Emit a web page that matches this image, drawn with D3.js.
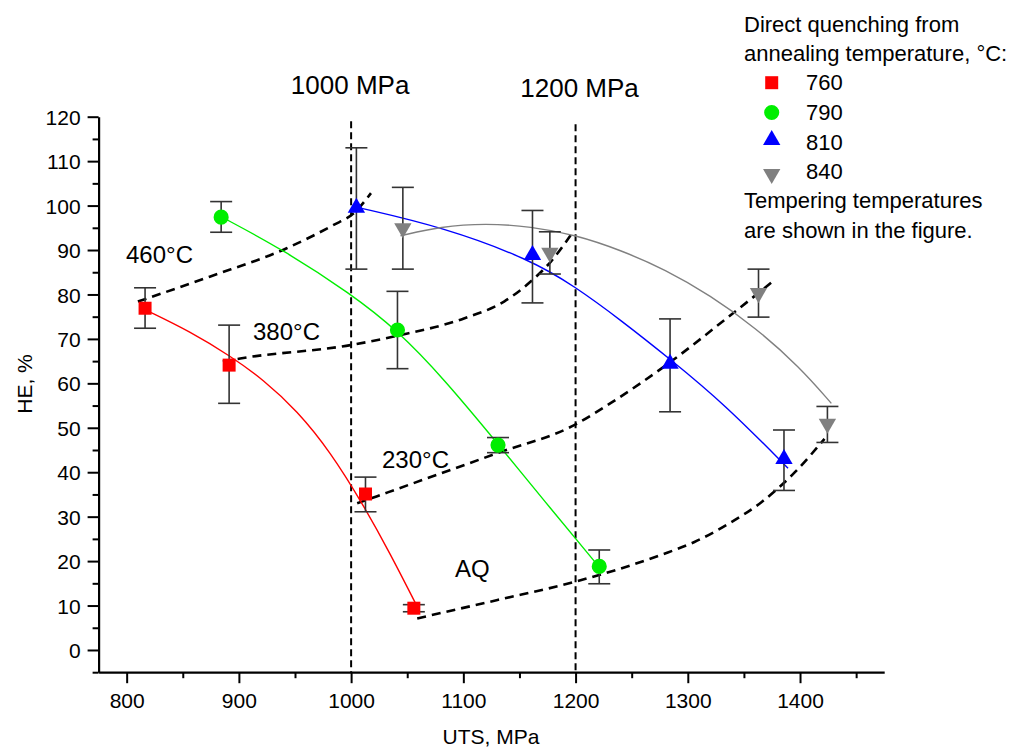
<!DOCTYPE html>
<html><head><meta charset="utf-8">
<script src="https://cdn.jsdelivr.net/npm/d3@7"></script>
<style>
body{margin:0;background:#fff}
text{font-family:"Liberation Sans",Arial,Helvetica,sans-serif;fill:#000}
</style>
</head><body>
<svg id="c" width="1010" height="747"></svg>
<script>
// ---------- data ----------
const xTicks = [800, 900, 1000, 1100, 1200, 1300, 1400];
const xMinor = [850, 950, 1050, 1150, 1250, 1350, 1450];
const yTicks = [0, 10, 20, 30, 40, 50, 60, 70, 80, 90, 100, 110, 120];
const yMinor = [-5, 5, 15, 25, 35, 45, 55, 65, 75, 85, 95, 105, 115];

const legendLabels = ["760", "790", "810", "840"];

// 760 °C (red squares)
const uts760 = [816.4, 891.3, 1012.8, 1055.9];
const he760  = [76.9, 64.1, 35.1, 9.4];
const lo760  = [72.4, 55.5, 31.1, 8.6];
const hi760  = [81.5, 73.1, 38.9, 10.2];
// 790 °C (green circles)
const uts790 = [884.2, 1041.3, 1130.9, 1221.1];
const he790  = [97.4, 72.0, 46.1, 18.8];
const lo790  = [94.0, 63.3, 44.4, 14.9];
const hi790  = [100.9, 80.7, 47.8, 22.5];
// 810 °C (blue triangles)
const uts810 = [1004.7, 1161.6, 1284.2, 1385.7];
const he810  = [99.5, 88.9, 64.4, 43.0];
const lo810  = [85.7, 78.1, 53.6, 35.9];
const hi810  = [113.0, 98.9, 74.5, 49.5];
// 840 °C (gray down triangles)
const uts840 = [1046.1, 1177.1, 1363.0, 1424.4];
const he840  = [94.9, 89.4, 80.3, 50.9];
const lo840  = [85.7, 84.6, 74.9, 46.7];
const hi840  = [104.1, 94.1, 85.7, 54.8];

// fitted curves
const fit760X = [817, 857, 892, 922, 952, 981.5, 1011, 1035, 1057.4];
const fit760Y = [76.5, 71.6, 66.2, 60.8, 53.8, 44.6, 32.6, 21.6, 10.5];
const fit790X = [884.2, 939.8, 999.4, 1041, 1082.7, 1130.4, 1172, 1219.6];
const fit790Y = [97.5, 90.0, 80.2, 72.0, 61.0, 46.5, 33.6, 19.1];
const fit810X = [1005.4, 1082.7, 1160, 1198.8, 1240, 1285, 1332.7, 1389.3];
const fit810Y = [99.6, 95.1, 87.8, 81.9, 74.3, 65.3, 55.3, 40.9];
const fit840X = [1044, 1080, 1120, 1160, 1200, 1240, 1280, 1320, 1360, 1400, 1427.9];
const fit840Y = [93.2, 95.3, 96.0, 95.3, 93.4, 90.0, 85.6, 79.8, 72.6, 63.6, 55.5];

// tempering trend lines (dashed)
const t460X = [810, 874, 942.6, 984, 1002, 1017.7];
const t460Y = [78.4, 84.0, 90.4, 95.6, 98.2, 102.8];
const t380X = [885.7, 901.2, 999.4, 1041, 1100.5, 1136.3, 1160, 1178, 1195.8];
const t380Y = [64.9, 65.6, 68.6, 70.7, 74.6, 78.4, 82.9, 87.4, 93.4];
const t230X = [1005.4, 1053, 1130.4, 1198.8, 1231.5, 1285, 1332.7, 1377.3];
const t230Y = [33.0, 37.3, 44.3, 50.6, 55.6, 64.9, 74.25, 83.25];
const tAQX  = [1058.9, 1130.4, 1200.3, 1276.2, 1305.9, 1335.6, 1365.3, 1395, 1421.8];
const tAQY  = [7.1, 11.25, 15.4, 21.4, 24.3, 28.3, 33.2, 39.9, 47.5];

const refX = [1000, 1200];
const refTop = [119, 118.3];
const refLabels = ["1000 MPa", "1200 MPa"];

const tempLabels = ["460°C", "380°C", "230°C", "AQ"];

// ---------- drawing ----------
const svg = d3.select("#c");
const x = d3.scaleLinear().domain([775, 1475]).range([98.6, 884.2]);
const y = d3.scaleLinear().domain([-5, 120]).range([672.2, 116.7]);
const FONT = '"Liberation Sans",Arial,Helvetica,sans-serif';

// axes
const gx = svg.append("g").attr("transform", `translate(0,${y(-5)})`)
  .call(d3.axisBottom(x).tickValues(xTicks).tickSize(11).tickSizeOuter(0).tickFormat(d3.format("d")));
const gxm = svg.append("g").attr("transform", `translate(0,${y(-5)})`)
  .call(d3.axisBottom(x).tickValues(xMinor).tickSize(6).tickSizeOuter(0).tickFormat(""));
gxm.select(".domain").remove();
const gy = svg.append("g").attr("transform", `translate(${x(775)},0)`)
  .call(d3.axisLeft(y).tickValues(yTicks).tickSize(11).tickSizeOuter(0).tickFormat(d3.format("d")));
const gym = svg.append("g").attr("transform", `translate(${x(775)},0)`)
  .call(d3.axisLeft(y).tickValues(yMinor).tickSize(6).tickSizeOuter(0).tickFormat(""));
gym.select(".domain").remove();
[gx, gxm, gy, gym].forEach(g => {
  g.selectAll(".domain").attr("stroke", "#000").attr("stroke-width", 2.2);
  g.selectAll(".tick line").attr("stroke", "#000").attr("stroke-width", 2);
});
gx.selectAll(".tick text").attr("y", 36).attr("dy", 0)
  .style("font-family", FONT).style("font-size", "21px").attr("fill", "#000");
gy.selectAll(".tick text").attr("x", -18).attr("dy", "0.36em")
  .style("font-family", FONT).style("font-size", "21px").attr("fill", "#000");

// axis titles
svg.append("text").attr("x", 491).attr("y", 744).attr("text-anchor", "middle")
  .style("font-size", "21px").text("UTS, MPa");
svg.append("text").attr("transform", "translate(32,384) rotate(-90)").attr("text-anchor", "middle")
  .style("font-size", "21px").text("HE, %");

// reference vertical lines
refX.forEach((v, i) => {
  svg.append("line").attr("x1", x(v)).attr("x2", x(v)).attr("y1", y(refTop[i])).attr("y2", y(-5))
    .attr("stroke", "#000").attr("stroke-width", 2).attr("stroke-dasharray", "7,4");
});
svg.append("text").attr("x", x(refX[0]) - 1).attr("y", 94).attr("text-anchor", "middle")
  .style("font-size", "26px").text(refLabels[0]);
svg.append("text").attr("x", x(refX[1]) + 4).attr("y", 97).attr("text-anchor", "middle")
  .style("font-size", "26px").text(refLabels[1]);

const zip = (a, b) => a.map((v, i) => [v, b[i]]);
const fitLine = d3.line().x(d => x(d[0])).y(d => y(d[1])).curve(d3.curveBasis);
const dashLine = d3.line().x(d => x(d[0])).y(d => y(d[1])).curve(d3.curveMonotoneX);

// dashed tempering curves
[[t460X, t460Y], [t380X, t380Y], [t230X, t230Y], [tAQX, tAQY]].forEach(([a, b]) => {
  svg.append("path").attr("d", dashLine(zip(a, b))).attr("fill", "none")
    .attr("stroke", "#000").attr("stroke-width", 2.6).attr("stroke-dasharray", "9,6");
});

// fit curves
const fits = [[fit760X, fit760Y, "#ff0000"], [fit790X, fit790Y, "#00ee00"], [fit810X, fit810Y, "#0000ff"], [fit840X, fit840Y, "#808080"]];
fits.forEach(([a, b, c]) => {
  svg.append("path").attr("d", fitLine(zip(a, b))).attr("fill", "none")
    .attr("stroke", c).attr("stroke-width", 1.4);
});

// error bars + markers
const groups = [
  {X: uts760, Y: he760, L: lo760, H: hi760, color: "#ff0000", sym: d3.symbolSquare, size: 169, rot: 0},
  {X: uts790, Y: he790, L: lo790, H: hi790, color: "#00ee00", sym: d3.symbolCircle, size: 180, rot: 0},
  {X: uts810, Y: he810, L: lo810, H: hi810, color: "#0000ff", sym: d3.symbolTriangle, size: 130, rot: 0},
  {X: uts840, Y: he840, L: lo840, H: hi840, color: "#808080", sym: d3.symbolTriangle, size: 130, rot: 180},
];
groups.forEach(g => {
  g.X.forEach((v, i) => {
    const eg = svg.append("g").attr("stroke", "#333").attr("stroke-width", 1.6);
    eg.append("line").attr("x1", x(v)).attr("x2", x(v)).attr("y1", y(g.L[i])).attr("y2", y(g.H[i]));
    eg.append("line").attr("x1", x(v) - 11).attr("x2", x(v) + 11).attr("y1", y(g.L[i])).attr("y2", y(g.L[i]));
    eg.append("line").attr("x1", x(v) - 11).attr("x2", x(v) + 11).attr("y1", y(g.H[i])).attr("y2", y(g.H[i]));
  });
});
groups.forEach(g => {
  g.X.forEach((v, i) => {
    svg.append("path").attr("d", d3.symbol(g.sym, g.size)())
      .attr("transform", `translate(${x(v)},${y(g.Y[i])}) rotate(${g.rot})`)
      .attr("fill", g.color);
  });
});

// tempering labels
const tl = [[126, 263], [253, 340], [382, 468], [455, 577]];
tempLabels.forEach((t, i) => {
  svg.append("text").attr("x", tl[i][0]).attr("y", tl[i][1]).style("font-size", "24px").text(t);
});

// legend
const lg = svg.append("g");
lg.append("text").attr("x", 744).attr("y", 31.5).style("font-size", "22px").text("Direct quenching from");
lg.append("text").attr("x", 744).attr("y", 61).style("font-size", "22px").text("annealing temperature, °C:");
const ly = [90, 119.5, 149.5, 178.5];
const lmy = [82.7, 112.5, 140, 174];
groups.forEach((g, i) => {
  lg.append("path").attr("d", d3.symbol(g.sym, g.size)())
    .attr("transform", `translate(771.7,${lmy[i]}) rotate(${g.rot})`).attr("fill", g.color);
  lg.append("text").attr("x", 806).attr("y", ly[i]).style("font-size", "22px").text(legendLabels[i]);
});
lg.append("text").attr("x", 744).attr("y", 208.3).style("font-size", "22px").text("Tempering temperatures");
lg.append("text").attr("x", 744).attr("y", 238).style("font-size", "22px").text("are shown in the figure.");
</script>
</body></html>
